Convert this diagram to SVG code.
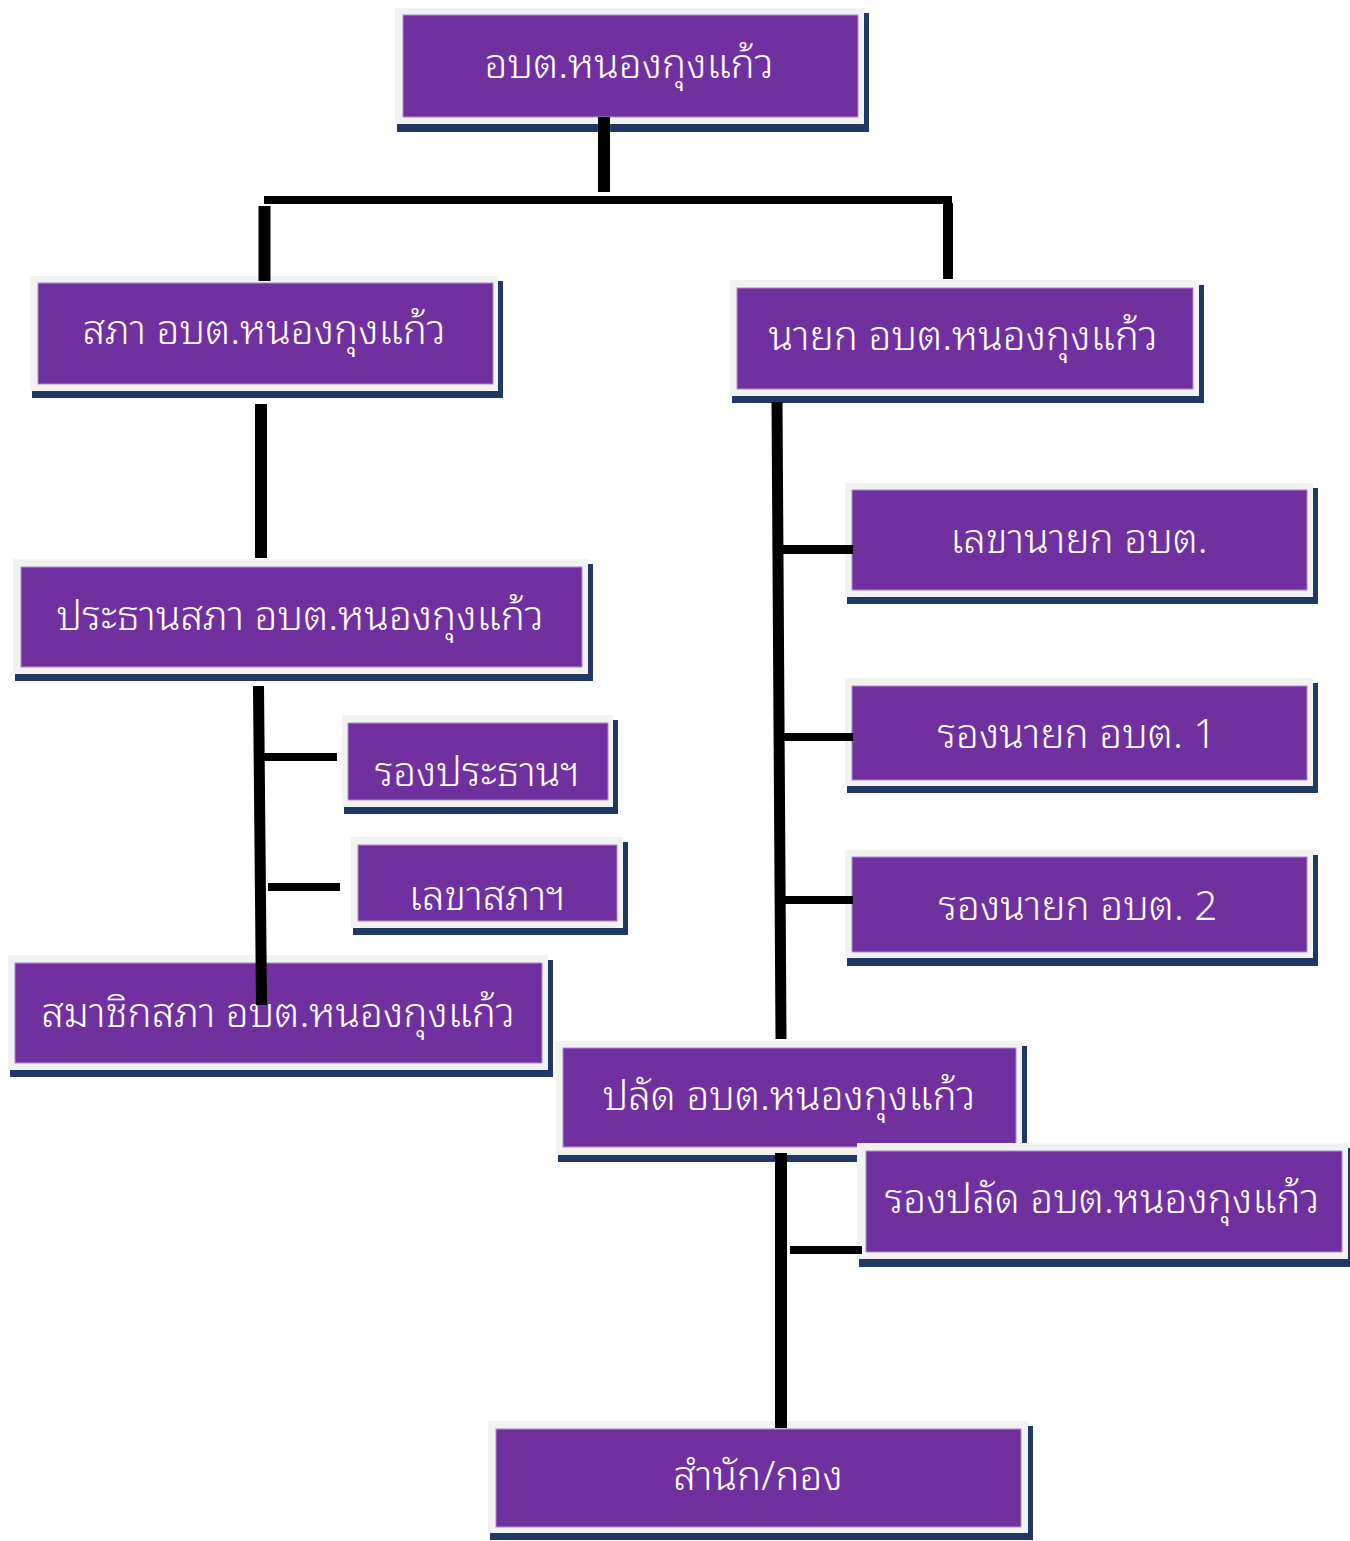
<svg xmlns="http://www.w3.org/2000/svg" width="1350" height="1541" viewBox="0 0 1350 1541">
<style>
.sh{fill:#203864}
.bg{fill:#F2F2F2}
.fg{fill:#7030A0;stroke:#A98BC8;stroke-width:1}
.t{fill:#FFFFFF;font-family:"Noto Sans Thai Looped","Noto Sans Thai","Tahoma","Noto Sans","DejaVu Sans",sans-serif;font-size:40.5px;font-weight:300;text-anchor:middle}
.c{stroke:#000000;fill:none}
</style>
<rect width="1350" height="1541" fill="#FFFFFF"/>
<g id="n-top">
<rect class="sh" x="397" y="13" width="472" height="119"/>
<rect class="bg" x="395" y="8" width="469" height="116"/>
<rect class="fg" x="403" y="15" width="455" height="102"/>
<text class="t" x="629" y="78">อบต.หนองกุงแก้ว</text>
</g>
<g id="n-sapha">
<rect class="sh" x="32" y="281" width="471" height="117"/>
<rect class="bg" x="30" y="276" width="468" height="115"/>
<rect class="fg" x="38" y="283" width="455" height="101"/>
<text class="t" x="264" y="344">สภา อบต.หนองกุงแก้ว</text>
</g>
<g id="n-nayok">
<rect class="sh" x="732" y="285" width="472" height="118"/>
<rect class="bg" x="730" y="280" width="469" height="116"/>
<rect class="fg" x="737" y="288" width="456" height="101"/>
<text class="t" x="963" y="350">นายก อบต.หนองกุงแก้ว</text>
</g>
<g id="n-prathan">
<rect class="sh" x="15" y="564" width="578" height="117"/>
<rect class="bg" x="13" y="559" width="575" height="115"/>
<rect class="fg" x="21" y="567" width="561" height="100"/>
<text class="t" x="300" y="630">ประธานสภา อบต.หนองกุงแก้ว</text>
</g>
<g id="n-rongprathan">
<rect class="sh" x="344" y="720" width="274" height="94"/>
<rect class="bg" x="342" y="715" width="271" height="92"/>
<rect class="fg" x="348" y="723" width="260" height="77"/>
<text class="t" x="477" y="786">รองประธานฯ</text>
</g>
<g id="n-lekhasapha">
<rect class="sh" x="353" y="842" width="275" height="93"/>
<rect class="bg" x="351" y="837" width="272" height="91"/>
<rect class="fg" x="358" y="845" width="259" height="76"/>
<text class="t" x="487" y="910">เลขาสภาฯ</text>
</g>
<g id="n-samachik">
<rect class="sh" x="10" y="960" width="543" height="117"/>
<rect class="bg" x="8" y="955" width="540" height="115"/>
<rect class="fg" x="15" y="963" width="527" height="100"/>
<text class="t" x="278" y="1027">สมาชิกสภา อบต.หนองกุงแก้ว</text>
</g>
<g id="n-lekhanayok">
<rect class="sh" x="847" y="488" width="471" height="116"/>
<rect class="bg" x="845" y="483" width="468" height="114"/>
<rect class="fg" x="852" y="490" width="455" height="100"/>
<text class="t" x="1079" y="553">เลขานายก อบต.</text>
</g>
<g id="n-rongnayok1">
<rect class="sh" x="847" y="683" width="471" height="110"/>
<rect class="bg" x="845" y="678" width="468" height="108"/>
<rect class="fg" x="852" y="686" width="455" height="94"/>
<text class="t" x="1077" y="748">รองนายก อบต. 1</text>
</g>
<g id="n-rongnayok2">
<rect class="sh" x="847" y="855" width="471" height="111"/>
<rect class="bg" x="845" y="850" width="468" height="108"/>
<rect class="fg" x="852" y="857" width="455" height="95"/>
<text class="t" x="1078" y="920">รองนายก อบต. 2</text>
</g>
<g id="n-palad">
<rect class="sh" x="558" y="1046" width="469" height="116"/>
<rect class="bg" x="556" y="1041" width="466" height="114"/>
<rect class="fg" x="563" y="1048" width="453" height="99"/>
<text class="t" x="789" y="1110">ปลัด อบต.หนองกุงแก้ว</text>
</g>
<g id="n-rongpalad">
<rect class="sh" x="859" y="1148" width="496" height="119"/>
<rect class="bg" x="857" y="1143" width="491" height="116"/>
<rect class="fg" x="866" y="1151" width="476" height="101"/>
<text class="t" x="1102" y="1213">รองปลัด อบต.หนองกุงแก้ว</text>
</g>
<g id="n-samnak">
<rect class="sh" x="490" y="1426" width="543" height="114"/>
<rect class="bg" x="488" y="1421" width="540" height="112"/>
<rect class="fg" x="496" y="1429" width="525" height="98"/>
<text class="t" x="758" y="1490">สำนัก/กอง</text>
</g>
<g id="connectors">
<line class="c" x1="604" y1="117" x2="604" y2="192" stroke-width="12"/>
<polyline class="c" points="264,200 948,200 948,203" stroke-width="8"/>
<line class="c" x1="264.5" y1="206" x2="264.5" y2="281" stroke-width="12"/>
<line class="c" x1="948" y1="203" x2="948" y2="279" stroke-width="10"/>
<line class="c" x1="261" y1="404" x2="261" y2="558" stroke-width="12"/>
<line class="c" x1="777" y1="402" x2="781" y2="1039" stroke-width="11"/>
<line class="c" x1="782" y1="549.5" x2="853" y2="549.5" stroke-width="9"/>
<line class="c" x1="782" y1="737" x2="853" y2="737" stroke-width="8"/>
<line class="c" x1="784" y1="900" x2="853" y2="900" stroke-width="8"/>
<line class="c" x1="258.5" y1="686" x2="261.5" y2="1005" stroke-width="11"/>
<line class="c" x1="264" y1="757" x2="337" y2="757" stroke-width="8"/>
<line class="c" x1="268" y1="887" x2="340" y2="887" stroke-width="8"/>
<line class="c" x1="781" y1="1153" x2="781" y2="1428" stroke-width="12"/>
<line class="c" x1="790" y1="1250" x2="862" y2="1250" stroke-width="8"/>
</g>
</svg>
